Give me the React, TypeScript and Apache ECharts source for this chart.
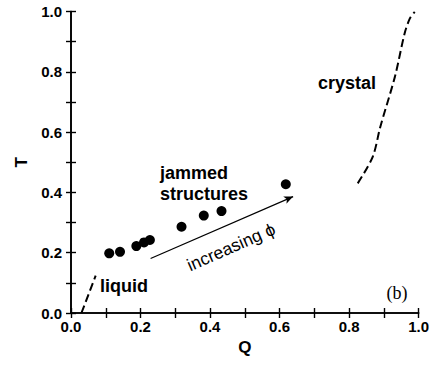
import React, { useEffect, useRef } from "react";
import * as echarts from "echarts";

// Jammed structures (filled circles)
const jammedQ = [0.110, 0.141, 0.188, 0.210, 0.227, 0.318, 0.382, 0.433, 0.618];
const jammedT = [0.198, 0.203, 0.222, 0.234, 0.242, 0.286, 0.323, 0.338, 0.427];
// Crystal boundary (dashed)
const crystalQ = [0.825, 0.868, 0.890, 0.932, 0.960, 0.975, 0.989];
const crystalT = [0.430, 0.518, 0.618, 0.784, 0.928, 0.977, 0.999];
// Liquid boundary (dashed)
const liquidQ = [0.030, 0.071];
const liquidT = [0.0, 0.124];
// Arrow "increasing phi"
const arrowFrom = [0.229, 0.181];
const arrowTo = [0.639, 0.386];

const zip = (a: number[], b: number[]) => a.map((v, i) => [v, b[i]]);

const FONT = '"Liberation Sans", Arial, sans-serif';

export default function App() {
  const ref = useRef<HTMLDivElement>(null);
  useEffect(() => {
    if (!ref.current) return;
    const chart = echarts.init(ref.current, null, { renderer: "svg" });
    const axisLine = { show: true, lineStyle: { color: "#000", width: 1.6 } };
    const tick = { show: true, inside: true, length: 5, lineStyle: { color: "#000", width: 1.4 } };
    const minor = { show: true, splitNumber: 2, length: 5, lineStyle: { color: "#000", width: 1.4 } };
    const label = {
      show: true,
      color: "#000",
      fontFamily: FONT,
      fontWeight: "bold" as const,
      fontSize: 15,
      formatter: (v: number) => v.toFixed(1),
    };
    chart.setOption({
      animation: false,
      grid: { left: 71, right: 8, top: 11.5, bottom: 52, containLabel: false },
      xAxis: [
        {
          type: "value", min: 0, max: 1, interval: 0.2, position: "bottom",
          name: "Q", nameLocation: "middle", nameGap: 26,
          nameTextStyle: { color: "#000", fontFamily: FONT, fontWeight: "bold", fontSize: 17 },
          axisLine, axisTick: tick, minorTick: minor,
          axisLabel: { ...label, margin: 6 },
          splitLine: { show: false },
        },
        {
          type: "value", min: 0, max: 1, interval: 0.2, position: "top",
          axisLine, axisTick: tick, minorTick: minor,
          axisLabel: { show: false }, splitLine: { show: false },
        },
      ],
      yAxis: [
        {
          type: "value", min: 0, max: 1, interval: 0.2, position: "left",
          name: "T", nameLocation: "middle", nameGap: 41, nameRotate: 90,
          nameTextStyle: { color: "#000", fontFamily: FONT, fontWeight: "bold", fontSize: 17 },
          axisLine, axisTick: tick, minorTick: minor,
          axisLabel: { ...label, margin: 9 },
          splitLine: { show: false },
        },
        {
          type: "value", min: 0, max: 1, interval: 0.2, position: "right",
          axisLine, axisTick: tick, minorTick: minor,
          axisLabel: { show: false }, splitLine: { show: false },
        },
      ],
      series: [
        {
          type: "line",
          data: zip(liquidQ, liquidT),
          showSymbol: false,
          lineStyle: { color: "#000", width: 2, type: [8, 4] },
        },
        {
          type: "line",
          data: zip(crystalQ, crystalT),
          showSymbol: false,
          smooth: 0.3,
          lineStyle: { color: "#000", width: 2, type: [8, 4] },
        },
        {
          type: "scatter",
          data: zip(jammedQ, jammedT),
          symbol: "circle",
          symbolSize: 10,
          itemStyle: { color: "#000", opacity: 1 },
          markLine: {
            silent: true,
            symbol: ["none", "arrow"],
            symbolSize: [6, 9],
            label: { show: false },
            lineStyle: { color: "#000", width: 1.2, type: "solid", opacity: 1 },
            data: [[{ coord: arrowFrom }, { coord: arrowTo }]],
          },
        },
      ],
      graphic: [
        {
          type: "text", x: 160, y: 173,
          style: { text: "jammed", font: `bold 18px ${FONT}`, fill: "#000", textAlign: "left", textVerticalAlign: "middle" },
        },
        {
          type: "text", x: 160, y: 194,
          style: { text: "structures", font: `bold 18px ${FONT}`, fill: "#000", textAlign: "left", textVerticalAlign: "middle" },
        },
        {
          type: "text", x: 318, y: 83,
          style: { text: "crystal", font: `bold 18px ${FONT}`, fill: "#000", textAlign: "left", textVerticalAlign: "middle" },
        },
        {
          type: "text", x: 100, y: 286,
          style: { text: "liquid", font: `bold 18px ${FONT}`, fill: "#000", textAlign: "left", textVerticalAlign: "middle" },
        },
        {
          type: "text", x: 231, y: 247, rotation: (23.7 * Math.PI) / 180,
          style: { text: "increasing \u03D5", font: `17.5px ${FONT}`, fill: "#000", textAlign: "center", textVerticalAlign: "middle" },
        },
        {
          type: "text", x: 397, y: 293,
          style: { text: "(b)", font: '18px "Liberation Serif", "Times New Roman", serif', fill: "#000", textAlign: "center", textVerticalAlign: "middle" },
        },
      ],
    });
    return () => chart.dispose();
  }, []);
  return <div ref={ref} style={{ width: 432, height: 365, position: "absolute", left: 0, top: 0 }} />;
}
